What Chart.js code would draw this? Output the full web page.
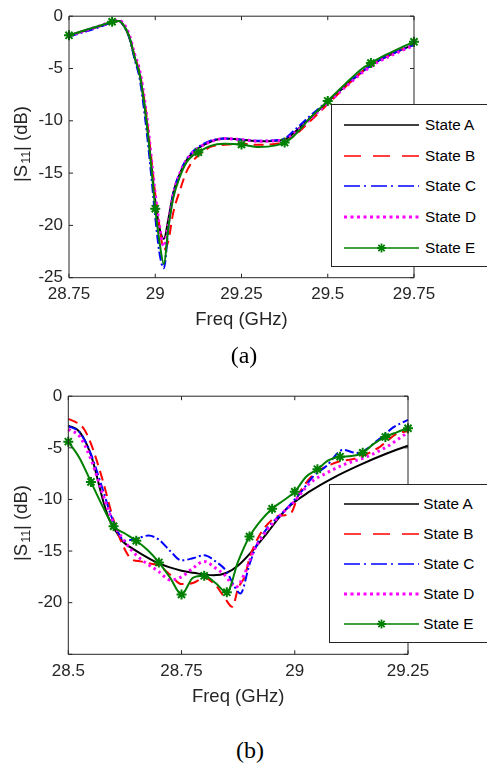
<!DOCTYPE html>
<html><head><meta charset="utf-8">
<script src="https://cdn.jsdelivr.net/npm/chart.js@4.4.1/dist/chart.umd.min.js"></script>
<style>
html,body{margin:0;padding:0;background:#fff;width:487px;height:768px;overflow:hidden;position:relative;font-family:"Liberation Sans",Arial,Helvetica,sans-serif;}
canvas{position:absolute;left:0;}
.ytitle{position:absolute;font-size:18.5px;color:#262626;white-space:nowrap;transform:translate(-50%,-50%) rotate(-90deg);line-height:1;}
.ytitle sub{font-size:12.5px;vertical-align:-3px;line-height:0;margin-left:1px;}
.legend{position:absolute;background:#fff;border:1px solid #262626;box-sizing:border-box;}
.row{position:absolute;left:0;height:30px;width:200px;}
.row svg{position:absolute;top:0;}
.row span{position:absolute;top:0;font-size:15.3px;line-height:30px;color:#000;white-space:nowrap;}
.cap{position:absolute;font-family:"Liberation Serif","Times New Roman",serif;font-size:24px;color:#000;transform:translate(-50%,-50%);line-height:1;}
</style>
</head><body>
<canvas id="ca" width="487" height="345" style="top:0px;width:487px;height:345px"></canvas>
<canvas id="cb" width="487" height="345" style="top:380px;width:487px;height:345px"></canvas>
<div class="ytitle" style="left:21px;top:143.6px">|S<sub>11</sub>| (dB)</div>
<div class="ytitle" style="left:21px;top:523px">|S<sub>11</sub>| (dB)</div>
<div id="legA" class="legend" style="left:331px;top:104px;width:170px;height:163px"></div>
<div id="legB" class="legend" style="left:329px;top:484px;width:170px;height:159px"></div>
<div class="cap" style="left:244px;top:355px">(a)</div>
<div class="cap" style="left:250px;top:750px">(b)</div>
<script>
// ---------- labels ----------
const stateLabels = ['State A', 'State B', 'State C', 'State D', 'State E'];
const xTitle = 'Freq (GHz)';

// ---------- chart (a) ----------
const freqA = [28.75, 28.8, 28.85, 28.875, 28.895, 28.91, 28.925, 28.94, 28.955, 28.97, 28.98, 28.99, 29.0, 29.012, 29.025, 29.038, 29.052, 29.072, 29.09, 29.11, 29.125, 29.16, 29.2, 29.25, 29.3, 29.35, 29.375, 29.4, 29.45, 29.5, 29.55, 29.6, 29.625, 29.65, 29.7, 29.75];
const aStateA = [-1.85, -1.35, -0.85, -0.55, -0.45, -0.95, -2.0, -3.9, -5.6, -8.8, -11.5, -14.6, -17.6, -20.2, -21.3, -19.4, -16.9, -15.0, -13.8, -13.0, -12.6, -12.0, -11.7, -11.8, -11.95, -11.9, -11.8, -11.2, -9.7, -8.2, -6.7, -5.3, -4.7, -4.2, -3.4, -2.7];
const aStateB = [-1.85, -1.35, -0.85, -0.55, -0.45, -0.95, -2.0, -3.8, -5.4, -8.4, -11.0, -14.0, -17.0, -20.0, -22.3, -21.5, -18.8, -16.6, -14.9, -13.8, -13.3, -12.5, -12.3, -12.2, -12.3, -12.2, -12.0, -11.5, -10.0, -8.4, -6.8, -5.3, -4.7, -4.2, -3.4, -2.7];
const aStateC = [-1.95, -1.45, -0.9, -0.55, -0.45, -1.0, -2.1, -4.1, -6.0, -9.6, -12.5, -15.8, -19.2, -22.6, -24.1, -20.3, -17.0, -14.9, -13.7, -12.9, -12.5, -11.9, -11.7, -11.8, -11.9, -11.85, -11.7, -11.0, -9.5, -8.1, -6.6, -5.3, -4.7, -4.2, -3.4, -2.75];
const aStateD = [-1.85, -1.35, -0.8, -0.5, -0.4, -0.8, -1.8, -3.6, -5.2, -8.2, -10.9, -14.0, -17.0, -20.0, -22.0, -19.8, -17.1, -15.0, -13.8, -13.0, -12.6, -12.0, -11.7, -11.8, -11.95, -11.9, -11.8, -11.3, -9.8, -8.3, -6.8, -5.4, -4.8, -4.3, -3.5, -2.8];
const aStateE = [-1.83, -1.3, -0.8, -0.53, -0.45, -0.95, -2.0, -3.9, -5.6, -8.8, -11.6, -14.9, -18.4, -21.5, -23.7, -20.2, -17.4, -15.3, -14.0, -13.3, -13.0, -12.4, -12.2, -12.27, -12.5, -12.35, -12.08, -11.5, -9.7, -8.1, -6.5, -5.0, -4.47, -4.0, -3.2, -2.45];
const markerStepA = 0.125;

// ---------- chart (b) ----------
const bFreqA = [28.5, 28.525, 28.55, 28.578, 28.59, 28.607, 28.621, 28.636, 28.658, 28.7, 28.75, 28.776, 28.82, 28.85, 28.875, 28.9, 28.938, 28.982, 29.034, 29.085, 29.144, 29.203, 29.25];
const bStateA = [-2.85, -3.45, -5.7, -10.3, -11.9, -13.2, -14.1, -14.6, -15.2, -16.2, -16.9, -17.1, -17.35, -17.1, -16.4, -15.3, -13.3, -10.9, -9.2, -7.9, -6.65, -5.55, -4.8];
const bFreqB = [28.5, 28.52, 28.535, 28.55, 28.575, 28.6, 28.62, 28.64, 28.66, 28.68, 28.7, 28.725, 28.75, 28.775, 28.8, 28.825, 28.845, 28.862, 28.875, 28.89, 28.9, 28.918, 28.94, 28.964, 28.99, 29.01, 29.044, 29.07, 29.1, 29.137, 29.188, 29.226, 29.25];
const bStateB = [-2.2, -2.6, -3.2, -4.6, -8.0, -12.0, -14.4, -15.8, -16.0, -16.2, -16.4, -17.3, -18.2, -18.1, -17.6, -18.3, -19.5, -20.4, -18.6, -17.4, -15.7, -13.8, -12.4, -11.6, -11.4, -9.4, -7.45, -6.8, -6.3, -6.0, -4.9, -3.6, -3.4];
const bFreqC = [28.5, 28.525, 28.55, 28.575, 28.6, 28.625, 28.65, 28.677, 28.7, 28.725, 28.75, 28.775, 28.8, 28.825, 28.85, 28.865, 28.88, 28.9, 28.916, 28.938, 28.982, 29.019, 29.04, 29.07, 29.107, 29.137, 29.188, 29.218, 29.25];
const bStateC = [-2.9, -3.5, -5.6, -8.9, -12.2, -14.0, -13.8, -13.5, -13.9, -15.0, -15.9, -15.7, -15.4, -16.0, -17.0, -18.3, -19.1, -16.3, -14.4, -12.85, -10.9, -9.0, -7.8, -6.75, -5.2, -5.5, -4.1, -3.0, -2.3];
const bFreqD = [28.5, 28.525, 28.55, 28.575, 28.6, 28.625, 28.65, 28.7, 28.725, 28.75, 28.775, 28.8, 28.825, 28.845, 28.87, 28.89, 28.908, 28.93, 28.964, 28.997, 29.034, 29.07, 29.107, 29.159, 29.203, 29.25];
const bStateD = [-3.2, -3.9, -6.1, -9.35, -12.3, -14.1, -15.4, -17.0, -17.8, -17.5, -16.65, -16.0, -16.65, -17.3, -18.5, -17.1, -15.1, -13.5, -11.7, -10.3, -8.4, -7.45, -6.65, -5.86, -4.9, -3.5];
const bFreqE = [28.5, 28.525, 28.55, 28.575, 28.6, 28.625, 28.65, 28.675, 28.7, 28.725, 28.75, 28.775, 28.8, 28.825, 28.85, 28.875, 28.9, 28.925, 28.95, 28.975, 29.0, 29.025, 29.05, 29.075, 29.1, 29.125, 29.15, 29.175, 29.2, 29.225, 29.25];
const bStateE = [-4.4, -6.0, -8.3, -10.6, -12.6, -13.3, -14.0, -14.9, -16.1, -17.6, -19.2, -17.6, -17.4, -18.1, -19.0, -16.0, -13.6, -12.05, -10.9, -10.1, -9.26, -7.8, -7.07, -6.2, -5.86, -5.8, -5.48, -4.6, -3.95, -3.5, -3.1];
const markerStepB = 0.05;

// ---------- styles ----------
const AX = '#262626';
const FONT = "'Liberation Sans', Arial, Helvetica, sans-serif";
const lineStyles = [
  {color: '#000000', dash: [], width: 2, legDash: [], legWidth: 1.4},
  {color: '#ff0000', dash: [10, 6], width: 2, legDash: [17, 12], legWidth: 1.4},
  {color: '#0000ff', dash: [9, 3, 2, 3], width: 2, legDash: [16, 4, 2, 5], legWidth: 1.4},
  {color: '#ff00ff', dash: [2.5, 3.5], width: 3, legDash: [3, 3.5], legWidth: 3},
  {color: '#008000', dash: [], width: 2, legDash: [], legWidth: 1.4}
];

function pts(xs, ys) { return xs.map((x, i) => ({x: x, y: ys[i]})); }
function fmt(v) { return String(parseFloat(v.toFixed(2))); }

function makeDatasets(series, x0, step) {
  return series.map((s, i) => {
    const st = lineStyles[i];
    const ds = {
      label: stateLabels[i],
      data: pts(s[0], s[1]),
      borderColor: st.color,
      backgroundColor: st.color,
      borderWidth: st.width,
      borderDash: st.dash,
      borderCapStyle: 'butt',
      cubicInterpolationMode: 'monotone',
      fill: false,
      pointRadius: 0,
      pointHoverRadius: 0,
      clip: false,
      order: 4 - i
    };
    if (i === 4) {
      ds.pointStyle = 'star';
      ds.pointBorderColor = st.color;
      ds.pointBackgroundColor = st.color;
      ds.pointBorderWidth = 2;
      ds.pointRadius = (ctx) => {
        if (!ctx.raw) return 0;
        const k = (ctx.raw.x - x0) / step;
        return Math.abs(k - Math.round(k)) < 1e-6 ? 5 : 0;
      };
    }
    return ds;
  });
}

const boxPlugin = {
  id: 'boxTicks',
  afterDatasetsDraw(chart) {
    const {ctx, chartArea: ca, scales} = chart;
    const L = ca.left, R = ca.right, T = ca.top, B = ca.bottom;
    ctx.save();
    ctx.strokeStyle = AX;
    ctx.lineWidth = 1;
    ctx.setLineDash([]);
    ctx.beginPath();
    ctx.rect(L, T, R - L, B - T);
    const tl = 4;
    scales.x.ticks.forEach(t => {
      const px = scales.x.getPixelForValue(t.value);
      ctx.moveTo(px, B); ctx.lineTo(px, B - tl);
      ctx.moveTo(px, T); ctx.lineTo(px, T + tl);
    });
    scales.y.ticks.forEach(t => {
      const py = scales.y.getPixelForValue(t.value);
      ctx.moveTo(L, py); ctx.lineTo(L + tl, py);
      ctx.moveTo(R, py); ctx.lineTo(R - tl, py);
    });
    ctx.stroke();
    ctx.restore();
  }
};

function makeChart(id, datasets, o) {
  return new Chart(document.getElementById(id), {
    type: 'line',
    data: {datasets: datasets},
    plugins: [boxPlugin],
    options: {
      responsive: false,
      devicePixelRatio: 1,
      animation: false,
      events: [],
      layout: {padding: {left: 0, top: o.top, right: o.right, bottom: 0}},
      plugins: {legend: {display: false}, tooltip: {enabled: false}, title: {display: false}},
      scales: {
        x: {
          type: 'linear', min: o.xmin, max: o.xmax,
          grid: {display: false, drawTicks: false},
          border: {display: false},
          ticks: {stepSize: 0.25, autoSkip: false, maxRotation: 0, padding: 6.5, color: AX,
                  font: {family: FONT, size: 17}, callback: (v) => fmt(v)},
          title: {display: true, text: xTitle, color: AX, font: {family: FONT, size: 18.5},
                  padding: {top: 0, bottom: o.titlePad}},
          afterFit: (s) => { s.height = o.xh; }
        },
        y: {
          type: 'linear', min: -25, max: 0,
          grid: {display: false, drawTicks: false},
          border: {display: false},
          ticks: {stepSize: 5, padding: 6, color: AX, font: {family: FONT, size: 17},
                  callback: (v) => (o.hideMin && v === -25) ? '' : String(v)},
          afterFit: (s) => { s.width = o.yw; }
        }
      }
    }
  });
}

makeChart('ca', makeDatasets([
  [freqA, aStateA], [freqA, aStateB], [freqA, aStateC], [freqA, aStateD], [freqA, aStateE]
], 28.75, markerStepA), {xmin: 28.75, xmax: 29.75, top: 9.5, right: 73, xh: 67.3, yw: 69, titlePad: 14, hideMin: false});

makeChart('cb', makeDatasets([
  [bFreqA, bStateA], [bFreqB, bStateB], [bFreqC, bStateC], [bFreqD, bStateD], [bFreqE, bStateE]
], 28.5, markerStepB), {xmin: 28.5, xmax: 29.25, top: 11.8, right: 79, xh: 70.7, yw: 68.3, titlePad: 17, hideMin: true});

// ---------- legends (HTML) ----------
function buildLegend(id, firstCenter, spacing, sampleLeft, textLeft) {
  const el = document.getElementById(id);
  const NS = 'http://www.w3.org/2000/svg';
  stateLabels.forEach((lab, i) => {
    const st = lineStyles[i];
    const row = document.createElement('div');
    row.className = 'row';
    row.style.top = (firstCenter + i * spacing - 15 - 1) + 'px';
    const svg = document.createElementNS(NS, 'svg');
    svg.setAttribute('width', '76'); svg.setAttribute('height', '30');
    svg.style.left = sampleLeft + 'px';
    const ln = document.createElementNS(NS, 'line');
    ln.setAttribute('x1', '0'); ln.setAttribute('x2', '75');
    ln.setAttribute('y1', '15'); ln.setAttribute('y2', '15');
    ln.setAttribute('stroke', st.color);
    ln.setAttribute('stroke-width', st.legWidth);
    if (st.legDash.length) ln.setAttribute('stroke-dasharray', st.legDash.join(' '));
    svg.appendChild(ln);
    if (i === 4) {
      const r = 4.5, cx = 37.5, cy = 15;
      [[0, 1], [1, 0], [0.7071, 0.7071], [0.7071, -0.7071]].forEach(d => {
        const a = document.createElementNS(NS, 'line');
        a.setAttribute('x1', cx - d[0] * r); a.setAttribute('y1', cy - d[1] * r);
        a.setAttribute('x2', cx + d[0] * r); a.setAttribute('y2', cy + d[1] * r);
        a.setAttribute('stroke', st.color); a.setAttribute('stroke-width', '1.8');
        svg.appendChild(a);
      });
    }
    row.appendChild(svg);
    const sp = document.createElement('span');
    sp.textContent = lab;
    sp.style.left = textLeft + 'px';
    row.appendChild(sp);
    el.appendChild(row);
  });
}
buildLegend('legA', 21, 30.7, 12, 93);
buildLegend('legB', 20.3, 30, 13.7, 93.3);
</script>
</body></html>
